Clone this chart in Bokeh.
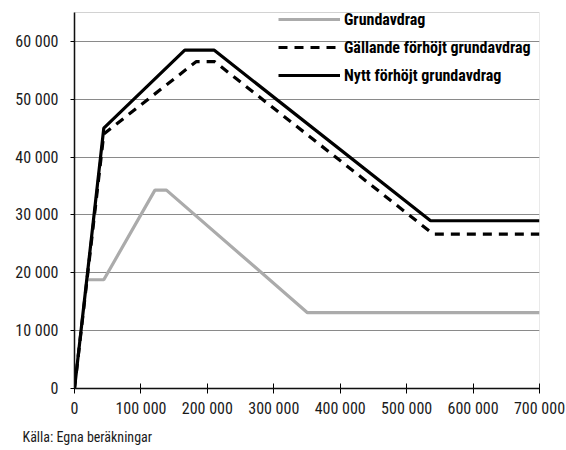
from bokeh.plotting import figure
from bokeh.models import FixedTicker, Legend, LegendItem, Title, Range1d, BoxAnnotation
from bokeh.embed import file_html
from bokeh.resources import INLINE

# Data (income, deduction)
grund_x = [18800, 44100, 121100, 138400, 350700, 700000]
grund_y = [18800, 18800, 34300, 34300, 13100, 13100]

gall_x = [0, 44100, 183000, 211000, 540000, 700000]
gall_y = [0, 44000, 56500, 56500, 26700, 26700]

nytt_x = [0, 44100, 166000, 210000, 536000, 700000]
nytt_y = [0, 45000, 58500, 58500, 29000, 29000]

x_ticks = [0, 100000, 200000, 300000, 400000, 500000, 600000, 700000]
x_labels = ["0", "100 000", "200 000", "300 000", "400 000", "500 000", "600 000", "700 000"]
y_ticks = [0, 10000, 20000, 30000, 40000, 50000, 60000]
y_labels = ["0", "10 000", "20 000", "30 000", "40 000", "50 000", "60 000"]
y_max = 65000

series_names = ["Grundavdrag", "Gällande förhöjt grundavdrag", "Nytt förhöjt grundavdrag"]
source_text = "Källa: Egna beräkningar"

FONT = "'Roboto Condensed', 'DejaVu Sans Condensed', 'Liberation Sans Narrow', 'Open Sans Condensed', Roboto"

FRAME_H = 384
PLOT_H = 376  # height of the boxed area (0..y_max)
p = figure(frame_width=465, frame_height=FRAME_H,
           min_border_left=74, min_border_right=27, min_border_top=4, min_border_bottom=62,
           x_range=Range1d(0, 700000), y_range=Range1d(0, y_max * FRAME_H / PLOT_H),
           output_backend="svg", toolbar_location=None)

p.background_fill_color = "white"
p.border_fill_color = "white"
p.outline_line_color = None

# plot-area box (top and right edges visible)
p.add_layout(BoxAnnotation(left=0, right=x_ticks[-1], bottom=0, top=y_max,
                           fill_alpha=0, line_color="#6a6a6a", line_width=1))

p.xgrid.visible = False
p.ygrid.grid_line_color = "#8a8a8a"
p.ygrid.grid_line_width = 1

for ax in (p.xaxis[0], p.yaxis[0]):
    ax.axis_line_color = "black"
    ax.axis_line_width = 1.5
    ax.major_tick_line_color = "black"
    ax.minor_tick_line_color = None
    ax.major_label_text_font = FONT
    ax.major_label_text_font_size = "16px"
    ax.major_label_text_color = "#1a1a1a"

p.xaxis.ticker = FixedTicker(ticks=x_ticks)
p.xaxis.major_label_overrides = {t: l for t, l in zip(x_ticks, x_labels)}
p.xaxis.major_tick_in = 5
p.xaxis.major_tick_out = 5
p.xaxis.major_label_standoff = 5

p.yaxis.ticker = FixedTicker(ticks=y_ticks)
p.yaxis.major_label_overrides = {t: l for t, l in zip(y_ticks, y_labels)}
p.yaxis.major_tick_in = 0
p.yaxis.major_tick_out = 4
p.yaxis.major_label_standoff = 12
p.yaxis.bounds = (0, y_max)

r1 = p.line(grund_x, grund_y, line_color="#ababab", line_width=3.2)
r2 = p.line(gall_x, gall_y, line_color="black", line_width=3.2, line_dash="9 7")
r3 = p.line(nytt_x, nytt_y, line_color="black", line_width=3.2)

legend = Legend(items=[LegendItem(label=series_names[0], renderers=[r1]),
                       LegendItem(label=series_names[1], renderers=[r2]),
                       LegendItem(label=series_names[2], renderers=[r3])],
                location=(204, 303))
legend.background_fill_alpha = 0
legend.border_line_alpha = 0
legend.padding = 0
legend.margin = 0
legend.spacing = 8
legend.glyph_width = 62
legend.glyph_height = 20
legend.label_height = 20
legend.label_standoff = 4
legend.label_text_font = FONT
legend.label_text_font_style = "bold"
legend.label_text_font_size = "16px"
legend.label_text_color = "black"
p.add_layout(legend, "center")

src = Title(text=source_text, align="left", offset=-52, standoff=12,
            text_font=FONT, text_font_size="14px", text_font_style="normal",
            text_color="#1a1a1a")
p.add_layout(src, "below")

open("out.html", "w").write(file_html(p, INLINE))
